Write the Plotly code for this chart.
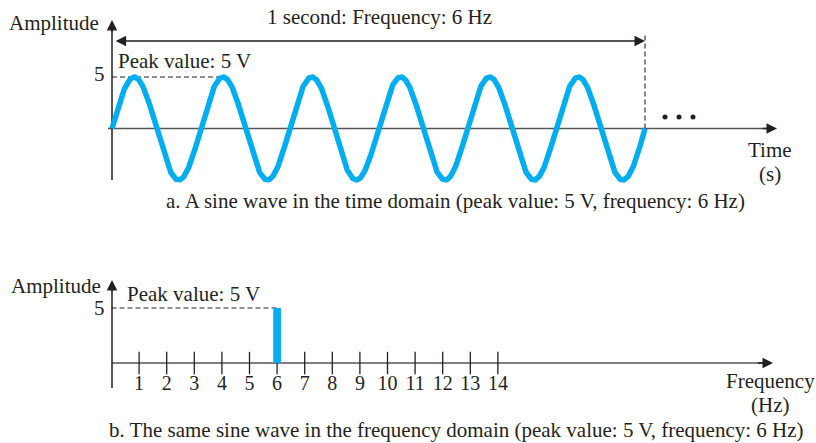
import numpy as np
import plotly.graph_objects as go

# Signal description
PEAK_VALUE = 5          # volts
FREQUENCY_HZ = 6        # cycles per second
DURATION_S = 1.0        # one second of signal shown

# Frequency-domain view
FREQ_TICKS = list(range(1, 15))
FREQ_TICK_LABELS = [str(f) for f in FREQ_TICKS]
SPECTRUM_FREQS = [6]
SPECTRUM_AMPS = [5]

W, H = 816, 443
INK = "#231f20"
AXIS = "#555555"
BLUE = "#00aeef"
FONT = "Liberation Serif"
FS = 21
TICK_FS = 20

# Pixel layout of the two panels (both subplots span the whole canvas)
T0_PX, T_PX_PER_S = 112, 533
TY0_PX, TY_PX_PER_V = 128.5, 10.3
F0_PX, F_PX_PER_HZ = 111.5, 27.6
FY0_PX, FY_PX_PER_V = 363, 11.0


def x_range(p0, k):
    return [-p0 / k, (W - p0) / k]


def y_range(p0, k):
    return [-(H - p0) / k, p0 / k]


def t_at(px):
    return (px - T0_PX) / T_PX_PER_S


def vt_at(py):
    return (TY0_PX - py) / TY_PX_PER_V


def f_at(px):
    return (px - F0_PX) / F_PX_PER_HZ


def vf_at(py):
    return (FY0_PX - py) / FY_PX_PER_V


def px(x):
    return x / W


def py(y):
    return 1 - y / H


fig = go.Figure()

# --- time domain ---------------------------------------------------------
t = np.linspace(0, DURATION_S, 1500)
v = PEAK_VALUE * np.sin(2 * np.pi * FREQUENCY_HZ * t)
fig.add_trace(go.Scatter(x=t, y=v, mode="lines",
                         line=dict(color=BLUE, width=5.5),
                         xaxis="x", yaxis="y", hoverinfo="skip"))

# continuation dots after the first second
dots_t = [t_at(665), t_at(679), t_at(693)]
fig.add_trace(go.Scatter(x=dots_t, y=[vt_at(117)] * 3, mode="markers",
                         marker=dict(color=INK, size=5),
                         xaxis="x", yaxis="y", hoverinfo="skip"))

# --- frequency domain ----------------------------------------------------
fig.add_trace(go.Scatter(x=FREQ_TICKS, y=[0] * len(FREQ_TICKS), mode="markers",
                         marker=dict(symbol="line-ns", size=16,
                                     line=dict(color=INK, width=1.3)),
                         xaxis="x2", yaxis="y2", hoverinfo="skip"))
fig.add_trace(go.Scatter(x=FREQ_TICKS, y=[vf_at(385)] * len(FREQ_TICKS),
                         mode="text", text=FREQ_TICK_LABELS,
                         textfont=dict(family=FONT, size=TICK_FS, color=INK),
                         xaxis="x2", yaxis="y2", hoverinfo="skip"))
for f, a in zip(SPECTRUM_FREQS, SPECTRUM_AMPS):
    fig.add_trace(go.Scatter(x=[f, f], y=[0, a], mode="lines",
                             line=dict(color=BLUE, width=7.7),
                             xaxis="x2", yaxis="y2", hoverinfo="skip"))

shapes = []
annotations = []


def axis_line(xref, yref, x0, y0, x1, y1, color, width=1.5):
    shapes.append(dict(type="line", xref=xref, yref=yref, x0=x0, y0=y0,
                       x1=x1, y1=y1, layer="below",
                       line=dict(color=color, width=width)))


def arrow_tip(xref, yref, x, y, ax, ay, color):
    annotations.append(dict(xref=xref, yref=yref, axref=xref, ayref=yref,
                            x=x, y=y, ax=ax, ay=ay, text="", showarrow=True,
                            arrowhead=2, arrowsize=1.4, arrowwidth=1.5,
                            arrowcolor=color, standoff=0))


def dashed(xref, yref, x0, y0, x1, y1):
    shapes.append(dict(type="line", xref=xref, yref=yref, x0=x0, y0=y0,
                       x1=x1, y1=y1, layer="below",
                       line=dict(color=INK, width=1.1, dash="5px,3px")))


def label(text, x, y, xanchor="center", size=FS):
    annotations.append(dict(xref="paper", yref="paper", x=px(x), y=py(y),
                            text=text, showarrow=False, xanchor=xanchor,
                            yanchor="middle", borderpad=0,
                            font=dict(family=FONT, size=size, color=INK)))


# time-domain axes
t_end = t_at(777)
axis_line("x", "y", t_at(108), 0, t_end - 0.01, 0, AXIS)
arrow_tip("x", "y", t_end, 0, t_end - 0.03, 0, INK)
axis_line("x", "y", 0, vt_at(180), 0, vt_at(26), INK)
arrow_tip("x", "y", 0, vt_at(20), 0, vt_at(34), INK)

t_peak1 = 1 / (4 * FREQUENCY_HZ)
dashed("x", "y", 0, PEAK_VALUE, t_peak1 + 1 / FREQUENCY_HZ, PEAK_VALUE)
dashed("x", "y", DURATION_S, 0, DURATION_S, vt_at(33))

# one-second span arrow
annotations.append(dict(xref="x", yref="y", axref="x", ayref="y",
                        x=DURATION_S, y=vt_at(41), ax=0.004, ay=vt_at(41),
                        text="", showarrow=True, arrowside="end+start",
                        arrowhead=2, startarrowhead=2, arrowsize=1.4,
                        startarrowsize=1.4, arrowwidth=1.5,
                        arrowcolor=INK, standoff=0, startstandoff=0))

# frequency-domain axes
f_end = f_at(773)
axis_line("x2", "y2", 0, 0, f_end - 0.3, 0, AXIS)
arrow_tip("x2", "y2", f_end, 0, f_end - 0.6, 0, INK)
axis_line("x2", "y2", f_at(112), vf_at(388), f_at(112), vf_at(286), INK)
arrow_tip("x2", "y2", f_at(112), vf_at(280), f_at(112), vf_at(293), INK)
dashed("x2", "y2", 0, SPECTRUM_AMPS[0], SPECTRUM_FREQS[0], SPECTRUM_AMPS[0])

# text
label("1 second: Frequency: 6 Hz", 379.5, 17)
label("Amplitude", 100, 23, xanchor="right")
label("Peak value: 5 V", 117, 61, xanchor="left")
label("5", 106, 74, xanchor="right")
label("Time", 770, 149.5)
label("(s)", 770, 173.5)
label("a. A sine wave in the time domain (peak value: 5 V, frequency: 6 Hz)",
      455, 201)

label("Amplitude", 102, 286, xanchor="right")
label("Peak value: 5 V", 126, 294, xanchor="left")
label("5", 106, 308, xanchor="right")
label("Frequency", 770, 380.5)
label("(Hz)", 770, 404.5)
label("b. The same sine wave in the frequency domain (peak value: 5 V, frequency: 6 Hz)",
      456, 430)

hidden = dict(visible=False, fixedrange=True, domain=[0, 1])
fig.update_layout(
    width=W, height=H,
    margin=dict(l=0, r=0, t=0, b=0),
    paper_bgcolor="white", plot_bgcolor="rgba(0,0,0,0)",
    showlegend=False,
    xaxis=dict(hidden, range=x_range(T0_PX, T_PX_PER_S), anchor="y"),
    yaxis=dict(hidden, range=y_range(TY0_PX, TY_PX_PER_V), anchor="x"),
    xaxis2=dict(hidden, range=x_range(F0_PX, F_PX_PER_HZ), anchor="y2"),
    yaxis2=dict(hidden, range=y_range(FY0_PX, FY_PX_PER_V), anchor="x2"),
    shapes=shapes,
    annotations=annotations,
)

fig.write_html("out.html", config={"displayModeBar": False})
